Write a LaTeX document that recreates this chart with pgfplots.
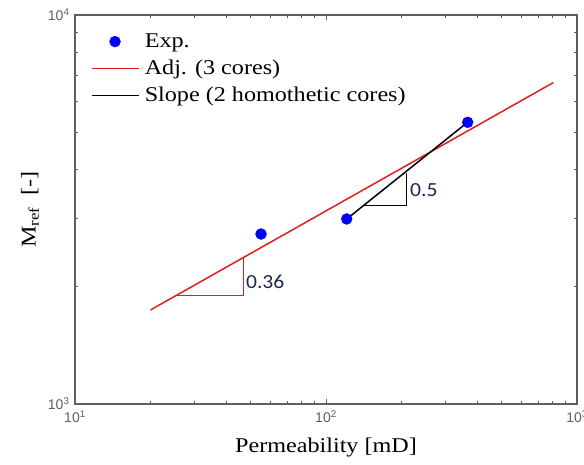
\documentclass[border=0pt]{standalone}
\usepackage{fontspec}
\setmainfont{Liberation Serif}[FakeStretch=1.15]
\setsansfont{Liberation Sans}
\newfontfamily\calib{Carlito}[FakeStretch=1.08]
\usepackage{pgfplots}
\pgfplotsset{compat=1.18}
\definecolor{axgray}{RGB}{95,95,95}
\definecolor{myred}{RGB}{225,30,30}
\definecolor{lblblue}{RGB}{30,40,80}
\pgfplotsset{
  linelegend/.style={legend image code/.code={\draw[##1] (0pt,0pt) -- (47pt,0pt);}},
  marklegend/.style={legend image code/.code={\draw[##1] plot coordinates {(23pt,0pt)};}}
}
\begin{document}
\begin{tikzpicture}[x=1pt,y=1pt]
\begin{axis}[
  at={(0,0)}, anchor=south west,
  scale only axis,
  width=502pt, height=389pt,
  xmode=log, ymode=log,
  xmin=10, xmax=1000, ymin=1000, ymax=10000,
  axis line style={axgray, line width=1.3pt},
  tick style={axgray, line width=0.8pt},
  major tick length=5pt, minor tick length=3pt,
  tick align=inside,
  xtick={10,100,1000}, ytick={1000,10000},
  xticklabels={{10\textsuperscript{1}},{10\textsuperscript{2}},{10\textsuperscript{3}}},
  yticklabels={{10\textsuperscript{3}},{10\textsuperscript{4}}},
  ticklabel style={font=\sffamily\fontsize{14}{14}\selectfont, text=axgray},
  xticklabel style={yshift=-3pt},
  yticklabel style={xshift=-2pt},
  xlabel={Permeability [mD]},
  ylabel={M\textsubscript{ref}\ \ [-]},
  label style={font=\fontsize{21}{21}\selectfont},
  xlabel style={yshift=-8pt},
  ylabel style={yshift=2pt},
  legend style={at={(0.026,0.962)}, anchor=north west, draw=none, fill=none,
    font=\fontsize{21}{21}\selectfont, row sep=7pt,
    nodes={inner xsep=5pt},
    legend cell align=left},
]
\addplot[only marks, mark=*, mark size=5.5pt, blue, mark options={fill=blue, draw=blue}, marklegend]
  coordinates {(55.1,2735) (120.9,2990) (366.8,5297)};
\addlegendentry{Exp.}
\addplot[myred, line width=1.5pt, linelegend]
  coordinates {(20,1745) (804,6700)};
\addlegendentry{Adj. (3 cores)}
\addplot[black, line width=1.5pt, linelegend]
  coordinates {(121,2990) (360,5250)};
\addlegendentry{Slope (2 homothetic cores)}
\addplot[myred, line width=0.7pt, forget plot]
  coordinates {(25.4,1904) (46.8,1904) (46.8,2379)};
\addplot[black, line width=0.9pt, forget plot]
  coordinates {(140.8,3233) (209.6,3233) (209.6,3930)};
\node[anchor=west, font=\calib\fontsize{20}{20}\selectfont, text=lblblue, inner sep=1pt] at (axis cs:47.5,2063) {0.36};
\node[anchor=west, font=\calib\fontsize{20}{20}\selectfont, text=lblblue, inner sep=1pt] at (axis cs:214,3548) {0.5};
\end{axis}
\pgfresetboundingbox
\path (-75pt,-60pt) rectangle (509pt,404pt);
\end{tikzpicture}
\end{document}
